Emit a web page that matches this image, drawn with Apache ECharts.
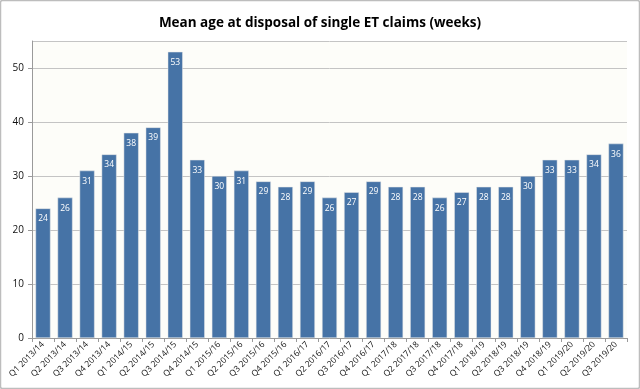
<!DOCTYPE html>
<html><head><meta charset="utf-8">
<script src="https://cdn.jsdelivr.net/npm/echarts@6/dist/echarts.min.js"></script>
<style>html,body{margin:0;padding:0;background:#fff}#c{width:640px;height:389px}</style>
</head><body><div id="c"></div>
<script>
const categories = ["Q1 2013/14","Q2 2013/14","Q3 2013/14","Q4 2013/14","Q1 2014/15","Q2 2014/15","Q3 2014/15","Q4 2014/15","Q1 2015/16","Q2 2015/16","Q3 2015/16","Q4 2015/16","Q1 2016/17","Q2 2016/17","Q3 2016/17","Q4 2016/17","Q1 2017/18","Q2 2017/18","Q3 2017/18","Q4 2017/18","Q1 2018/19","Q2 2018/19","Q3 2018/19","Q4 2018/19","Q1 2019/20","Q2 2019/20","Q3 2019/20"];
const values = [24,26,31,34,38,39,53,33,30,31,29,28,29,26,27,29,28,28,26,27,28,28,30,33,33,34,36];
const title = "Mean age at disposal of single ET claims (weeks)";
const chart = echarts.init(document.getElementById('c'));
chart.setOption({
  animation:false,
  backgroundColor:'#fff',
  textStyle:{fontFamily:'Open Sans'},
  title:{text:title,left:'center',top:11,textStyle:{fontSize:13.5,fontWeight:'bold',color:'#000',fontFamily:'Open Sans'}},
  graphic:[{type:'rect',shape:{x:0.5,y:0.5,width:639,height:388,r:2},style:{fill:'none',stroke:'#bdbdbd',lineWidth:1.5},z:-1}],
  grid:{left:32,right:13,top:41,bottom:51,show:true,backgroundColor:'#fdfdf9',borderWidth:0},
  xAxis:{type:'category',data:categories,
    axisLine:{lineStyle:{color:'#9a9a9a'}},
    axisTick:{show:true,alignWithLabel:false,length:4,lineStyle:{color:'#9a9a9a'}},
    axisLabel:{rotate:45,fontSize:8.5,color:'#111',margin:5,interval:0}},
  yAxis:{type:'value',min:0,max:55,interval:10,
    axisLine:{show:true,lineStyle:{color:'#9a9a9a'}},
    axisTick:{show:true,length:4,lineStyle:{color:'#9a9a9a'}},
    splitLine:{lineStyle:{color:'#c4c4c4'}},
    axisLabel:{fontSize:10,color:'#111',margin:8,showMaxLabel:false}},
  series:[{type:'bar',data:values,barCategoryGap:'32%',
    itemStyle:{color:'#4673a6',borderColor:'#e8e8e8',borderWidth:0.5},
    label:{show:true,position:'insideTop',color:'#fff',fontSize:8.5,distance:6}}]
});
</script></body></html>
